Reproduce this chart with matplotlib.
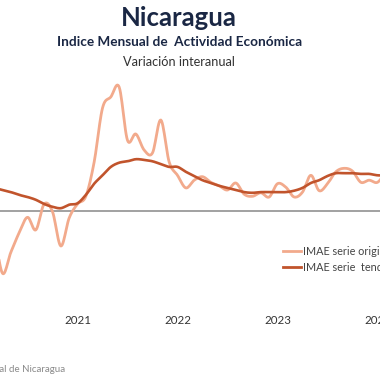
import numpy as np
import pandas as pd
import matplotlib
matplotlib.use("Agg")
import matplotlib.pyplot as plt
from matplotlib.lines import Line2D

plt.rcParams['font.family'] = ['Lato', 'DejaVu Sans']

# ---- data (monthly, Mar-2020 .. Feb-2024), % interannual variation ----
months = pd.date_range("2020-03-01", "2024-02-01", freq="MS")
serie_original = [-2.7, -8.9, -5.9, -3.1, -0.9, -2.7, 1.0, -0.1, -5.0, -1.0,
                  1.0, 2.1, 7.0, 14.7, 16.3, 17.7, 10.1, 11.0, 8.7, 8.3, 13.0, 7.0,
                  5.1, 3.3, 4.4, 4.9, 4.1, 3.6, 3.0, 4.0, 2.4, 2.1, 2.6, 2.0,
                  3.9, 3.4, 2.0, 2.7, 5.1, 2.9, 3.9, 5.6, 6.1, 5.7, 4.1, 4.4,
                  4.1, 5.6]
serie_tendencia = [3.3, 3.0, 2.7, 2.3, 2.0, 1.6, 1.0, 0.6, 0.4, 0.9,
                   1.1, 2.3, 3.9, 5.1, 6.3, 6.9, 7.1, 7.4, 7.3, 7.1, 6.7, 6.3,
                   6.3, 5.6, 5.0, 4.4, 4.0, 3.6, 3.3, 3.0, 2.7, 2.6, 2.7, 2.7,
                   2.7, 2.7, 2.9, 3.3, 4.0, 4.4, 5.0, 5.4, 5.4, 5.4, 5.3, 5.3,
                   5.1, 5.1]
year_labels = ["2021", "2022", "2023", "2024"]
legend_labels = ["IMAE serie original", "IMAE serie  tendencia"]

title = "Nicaragua"
subtitle = "Indice Mensual de  Actividad Económica"
subsubtitle = "Variación interanual"
source = "Fuente: Banco Central de Nicaragua"

c_orig = "#f2aa8c"
c_trend = "#c1542c"
c_title = "#1a2744"


def smooth(x, y, n=12):
    """Catmull-Rom smoothing of a line (display style like a 'smoothed line')."""
    x = np.asarray(x, float)
    y = np.asarray(y, float)
    px = np.concatenate([[2 * x[0] - x[1]], x, [2 * x[-1] - x[-2]]])
    py = np.concatenate([[2 * y[0] - y[1]], y, [2 * y[-1] - y[-2]]])
    xs, ys = [], []
    t = np.linspace(0, 1, n, endpoint=False)
    for i in range(1, len(px) - 2):
        for arr, out in ((px, xs), (py, ys)):
            p0, p1, p2, p3 = arr[i - 1], arr[i], arr[i + 1], arr[i + 2]
            out.extend(0.5 * ((2 * p1) + (-p0 + p2) * t +
                              (2 * p0 - 5 * p1 + 4 * p2 - p3) * t ** 2 +
                              (-p0 + 3 * p1 - 3 * p2 + p3) * t ** 3))
    xs.append(x[-1])
    ys.append(y[-1])
    return np.array(xs), np.array(ys)


W = H = 380
fig = plt.figure(figsize=(3.8, 3.8), dpi=100)

ax_top, ax_bot = 80, 300
ax = fig.add_axes([0, 1 - ax_bot / H, 1, (ax_bot - ax_top) / H])

pos = np.arange(len(months))
jan_idx = [i for i, d in enumerate(months) if d.month == 1]

xo, yo = smooth(pos, serie_original)
xt, yt = smooth(pos, serie_tendencia)
ax.plot(xo, yo, color=c_orig, lw=2.0, solid_capstyle="round")
ax.plot(xt, yt, color=c_trend, lw=1.9, solid_capstyle="round")
ax.axhline(0, color="#9a9a9a", lw=1.3, zorder=0)

px_per_month = 100 / 12
x0 = jan_idx[0] - 77.5 / px_per_month
ax.set_xlim(x0, x0 + W / px_per_month)
px_per_unit = 7.0
zero_y = 211
ax.set_ylim((zero_y - ax_bot) / px_per_unit, (zero_y - ax_top) / px_per_unit)

ax.set_xticks(jan_idx)
ax.set_xticklabels(year_labels[:len(jan_idx)], fontsize=8.3, color="#333333")
ax.tick_params(axis="x", length=0, pad=11)
ax.set_yticks([])
for s in ax.spines.values():
    s.set_visible(False)

fig.text(179 / W, 1 - 18 / H, title, ha="center", va="center",
         fontsize=18.5, fontweight="bold", color=c_title)
fig.text(180 / W, 1 - 42 / H, subtitle, ha="center", va="center",
         fontsize=9.8, fontweight="bold", color=c_title)
fig.text(179 / W, 1 - 62 / H, subsubtitle, ha="center", va="center",
         fontsize=9.2, color="#333333")
fig.text(65 / W, 1 - 369 / H, source, ha="right", va="center",
         fontsize=7, color="#8a8a8a")

handles = [Line2D([], [], color=c_orig, lw=2), Line2D([], [], color=c_trend, lw=2)]
fig.legend(handles, legend_labels, loc="upper left",
           bbox_to_anchor=(283 / W, 1 - 246 / H), frameon=False,
           fontsize=7.8, handlelength=1.7, handletextpad=0.15,
           labelspacing=0.45, borderaxespad=0, borderpad=0,
           labelcolor="#444444")

fig.savefig("out.png", dpi=100)
